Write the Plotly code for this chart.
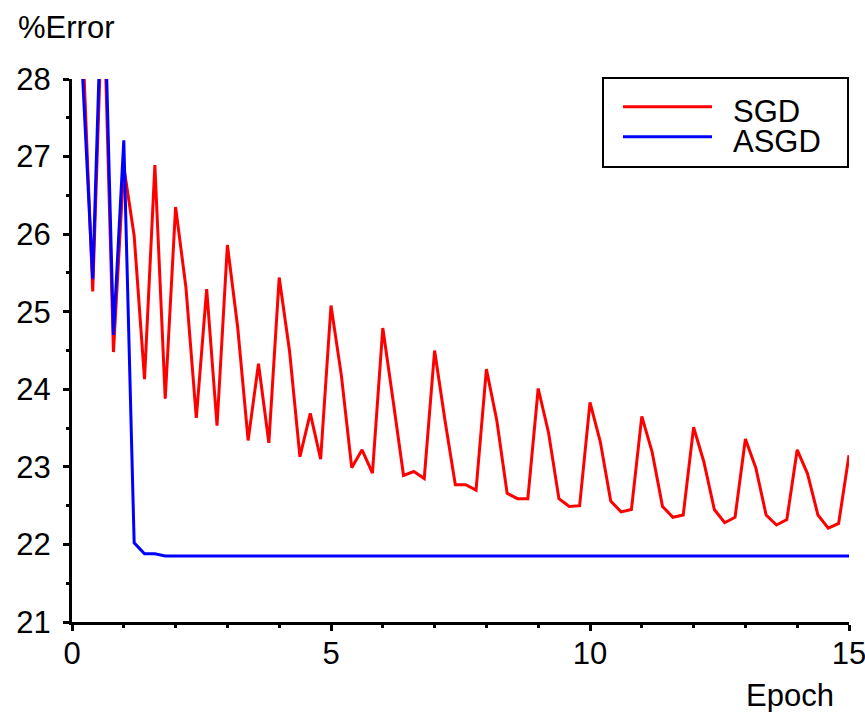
import plotly.graph_objects as go

epochs = [0.2, 0.4, 0.6, 0.8, 1.0, 1.2, 1.4, 1.6, 1.8, 2.0,
          2.2, 2.4, 2.6, 2.8, 3.0, 3.2, 3.4, 3.6, 3.8, 4.0,
          4.2, 4.4, 4.6, 4.8, 5.0, 5.2, 5.4, 5.6, 5.8, 6.0,
          6.2, 6.4, 6.6, 6.8, 7.0, 7.2, 7.4, 7.6, 7.8, 8.0,
          8.2, 8.4, 8.6, 8.8, 9.0, 9.2, 9.4, 9.6, 9.8, 10.0,
          10.2, 10.4, 10.6, 10.8, 11.0, 11.2, 11.4, 11.6, 11.8, 12.0,
          12.2, 12.4, 12.6, 12.8, 13.0, 13.2, 13.4, 13.6, 13.8, 14.0,
          14.2, 14.4, 14.6, 14.8, 15.0]

sgd = [28.6, 25.26, 29.3, 24.48, 26.87, 25.98, 24.13, 26.89, 23.88, 26.35,
       25.31, 23.63, 25.29, 23.53, 25.86, 24.79, 23.34, 24.33, 23.31, 25.44,
       24.49, 23.13, 23.69, 23.10, 25.08, 24.18, 22.99, 23.22, 22.92, 24.79,
       23.85, 22.89, 22.94, 22.85, 24.50, 23.60, 22.77, 22.77, 22.70, 24.26,
       23.60, 22.66, 22.59, 22.59, 24.01, 23.44, 22.59, 22.49, 22.50, 23.83,
       23.32, 22.56, 22.42, 22.45, 23.65, 23.19, 22.49, 22.35, 22.38, 23.51,
       23.06, 22.45, 22.28, 22.35, 23.36, 22.99, 22.38, 22.25, 22.32, 23.22,
       22.91, 22.38, 22.21, 22.27, 23.15]

asgd = [28.1, 25.42, 29.8, 24.70, 27.21, 22.02, 21.88, 21.88, 21.85, 21.85,
        21.85, 21.85, 21.85, 21.85, 21.85, 21.85, 21.85, 21.85, 21.85, 21.85,
        21.85, 21.85, 21.85, 21.85, 21.85, 21.85, 21.85, 21.85, 21.85, 21.85,
        21.85, 21.85, 21.85, 21.85, 21.85, 21.85, 21.85, 21.85, 21.85, 21.85,
        21.85, 21.85, 21.85, 21.85, 21.85, 21.85, 21.85, 21.85, 21.85, 21.85,
        21.85, 21.85, 21.85, 21.85, 21.85, 21.85, 21.85, 21.85, 21.85, 21.85,
        21.85, 21.85, 21.85, 21.85, 21.85, 21.85, 21.85, 21.85, 21.85, 21.85,
        21.85, 21.85, 21.85, 21.85, 21.85]

series_names = ["SGD", "ASGD"]
series_colors = ["#ff0000", "#0000ff"]
x_title = "Epoch"
y_title = "%Error"

FONT = "Liberation Sans, Arial, Helvetica, sans-serif"
FS = 31

fig = go.Figure()
fig.add_trace(go.Scatter(x=epochs, y=sgd, mode="lines", name=series_names[0],
                         line=dict(color=series_colors[0], width=3)))
fig.add_trace(go.Scatter(x=epochs, y=asgd, mode="lines", name=series_names[1],
                         line=dict(color=series_colors[1], width=3)))

W, H = 865, 712
L, R, T, B = 72, 16, 79, 90
pw, ph = W - L - R, H - T - B


def px(xs):
    return (xs - L) / pw


def py(ys):
    return (H - B - ys) / ph


axis_common = dict(showgrid=False, zeroline=False, showline=True, linecolor="black",
                   linewidth=3, ticks="outside", tickcolor="black", tickwidth=3,
                   ticklen=6, ticklabeloverflow="allow", automargin=False,
                   tickfont=dict(family=FONT, size=FS, color="black"))

fig.update_xaxes(range=[0, 15], tick0=0, dtick=5, ticklabelstandoff=-4,
                 minor=dict(dtick=1, ticks="outside", ticklen=3, tickcolor="black", tickwidth=3),
                 **axis_common)
fig.update_yaxes(range=[21, 28], tick0=21, dtick=1, ticklabelstandoff=6,
                 minor=dict(dtick=0.5, ticks="outside", ticklen=3, tickcolor="black", tickwidth=3),
                 **axis_common)

# inner halves of the crossing tick marks
inner_common = dict(showgrid=False, zeroline=False, showline=False, showticklabels=False,
                    automargin=False, ticks="inside", tickcolor="black", tickwidth=3, ticklen=6)
fig.update_layout(
    xaxis2=dict(overlaying="x", anchor="y", side="bottom", range=[0, 15], tick0=0, dtick=5,
                minor=dict(dtick=1, ticks="inside", ticklen=3, tickcolor="black", tickwidth=3),
                **inner_common),
    yaxis2=dict(overlaying="y", anchor="x", side="left", range=[21, 28], tick0=21, dtick=1,
                minor=dict(dtick=0.5, ticks="inside", ticklen=3, tickcolor="black", tickwidth=3),
                **inner_common),
)

shapes = [
    dict(type="rect", xref="paper", yref="paper", x0=px(603), x1=px(848), y0=py(167), y1=py(78),
         line=dict(color="black", width=2), fillcolor="white", layer="above"),
    dict(type="line", xref="paper", yref="paper", x0=px(623), x1=px(712), y0=py(106.7), y1=py(106.7),
         line=dict(color=series_colors[0], width=3), layer="above"),
    dict(type="line", xref="paper", yref="paper", x0=px(623), x1=px(712), y0=py(136.7), y1=py(136.7),
         line=dict(color=series_colors[1], width=3), layer="above"),
]

annotations = [
    dict(text=series_names[0], xref="paper", yref="paper", x=px(731), y=py(112), xanchor="left",
         yanchor="middle", showarrow=False, font=dict(family=FONT, size=FS, color="black")),
    dict(text=series_names[1], xref="paper", yref="paper", x=px(731), y=py(141), xanchor="left",
         yanchor="middle", showarrow=False, font=dict(family=FONT, size=FS, color="black")),
    dict(text=y_title, xref="paper", yref="paper", x=px(16), y=py(27), xanchor="left",
         yanchor="middle", showarrow=False, font=dict(family=FONT, size=FS, color="black")),
    dict(text=x_title, xref="paper", yref="paper", x=px(836), y=py(695), xanchor="right",
         yanchor="middle", showarrow=False, font=dict(family=FONT, size=FS, color="black")),
]

fig.update_layout(
    width=W, height=H,
    margin=dict(l=L, r=R, t=T, b=B, pad=0, autoexpand=False),
    paper_bgcolor="white", plot_bgcolor="white",
    showlegend=False,
    font=dict(family=FONT, size=FS, color="black"),
    shapes=shapes,
    annotations=annotations,
)

fig.write_html(
    "out.html",
    config={"responsive": False, "displayModeBar": False},
    post_script="document.body.style.margin='0';document.body.style.overflow='hidden';",
)
